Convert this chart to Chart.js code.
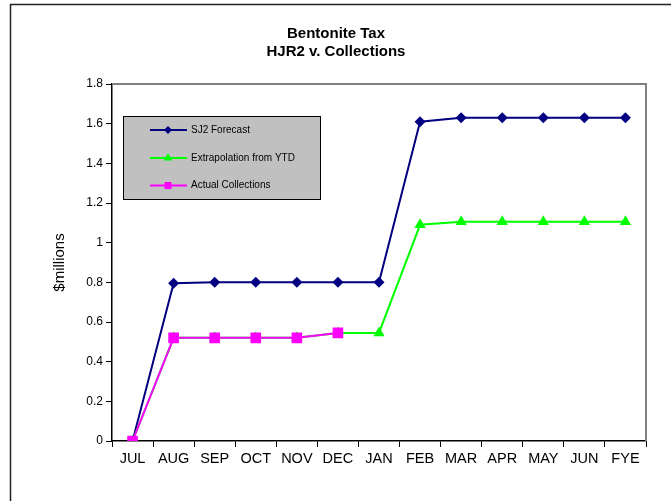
<!DOCTYPE html>
<html>
<head>
<meta charset="utf-8">
<script src="https://cdn.jsdelivr.net/npm/chart.js@4/dist/chart.umd.min.js"></script>
<style>
  html, body { margin: 0; padding: 0; background: #fff; }
  #wrap { width: 671px; height: 501px; position: relative; }
</style>
</head>
<body>
<div id="wrap"><canvas id="c" width="671" height="501"></canvas></div>
<script>
const categories = ['JUL','AUG','SEP','OCT','NOV','DEC','JAN','FEB','MAR','APR','MAY','JUN','FYE'];
const sj2Forecast = [0, 0.795, 0.80, 0.80, 0.80, 0.80, 0.80, 1.61, 1.63, 1.63, 1.63, 1.63, 1.63];
const extrapolation = [0, 0.52, 0.52, 0.52, 0.52, 0.545, 0.545, 1.09, 1.105, 1.105, 1.105, 1.105, 1.105];
const actualCollections = [0, 0.52, 0.52, 0.52, 0.52, 0.545, null, null, null, null, null, null, null];
const yTicks = { min: 0, max: 1.8, step: 0.2 };
const titleLines = ['Bentonite Tax', 'HJR2 v. Collections'];
const yAxisTitle = '$millions';

const FONT = '"Liberation Sans", Arial, sans-serif';

const decorPlugin = {
  id: 'decor',
  beforeDraw(chart) {
    const ctx = chart.ctx;
    ctx.save();
    ctx.fillStyle = '#fff';
    ctx.fillRect(0, 0, chart.width, chart.height);
    ctx.strokeStyle = '#222';
    ctx.lineWidth = 1.5;
    ctx.strokeRect(10.5, 4.5, 800, 800);
    // title
    ctx.fillStyle = '#000';
    ctx.font = 'bold 15px ' + FONT;
    ctx.textAlign = 'center';
    ctx.textBaseline = 'middle';
    ctx.fillText(titleLines[0], 336, 34);
    ctx.fillText(titleLines[1], 336, 52);
    ctx.restore();
  },
  beforeDatasetsDraw(chart) {
    const ctx = chart.ctx;
    const a = chart.chartArea;
    ctx.save();
    ctx.strokeStyle = '#808080';
    ctx.lineWidth = 2;
    ctx.beginPath();
    ctx.moveTo(a.left, a.top);
    ctx.lineTo(a.right, a.top);
    ctx.lineTo(a.right, a.bottom);
    ctx.stroke();
    ctx.restore();
  },
  afterDraw(chart) {
    const ctx = chart.ctx;
    ctx.save();
    // legend box
    ctx.fillStyle = '#c0c0c0';
    ctx.fillRect(123, 116, 197, 83);
    ctx.strokeStyle = '#000';
    ctx.lineWidth = 1;
    ctx.strokeRect(123.5, 116.5, 197, 83);
    const rows = [130, 158, 185.5];
    const ds = chart.data.datasets;
    ds.forEach((d, i) => {
      const y = rows[i];
      ctx.strokeStyle = d.borderColor;
      ctx.lineWidth = 2;
      ctx.beginPath();
      ctx.moveTo(150, y);
      ctx.lineTo(187, y);
      ctx.stroke();
      ctx.fillStyle = d.borderColor;
      const x = 168;
      ctx.beginPath();
      if (d.pointStyle === 'rectRot') {
        const r = 4;
        ctx.moveTo(x - r, y); ctx.lineTo(x, y - r); ctx.lineTo(x + r, y); ctx.lineTo(x, y + r);
      } else if (d.pointStyle === 'triangle') {
        const r = 5;
        ctx.moveTo(x, y - r); ctx.lineTo(x + r * 0.87, y + r * 0.5); ctx.lineTo(x - r * 0.87, y + r * 0.5);
      } else {
        const s = 3.5;
        ctx.rect(x - s, y - s, 2 * s, 2 * s);
      }
      ctx.closePath();
      ctx.fill();
      ctx.fillStyle = '#000';
      ctx.font = '10px ' + FONT;
      ctx.textAlign = 'left';
      ctx.textBaseline = 'middle';
      ctx.fillText(d.label, 191, y);
    });
    ctx.restore();
  }
};

new Chart(document.getElementById('c'), {
  type: 'line',
  data: {
    labels: categories,
    datasets: [
      {
        label: 'SJ2 Forecast',
        data: sj2Forecast,
        borderColor: '#000080',
        backgroundColor: '#000080',
        borderWidth: 2,
        pointStyle: 'rectRot',
        pointRadius: 5.5,
        pointBorderWidth: 0,
        tension: 0,
        order: 3
      },
      {
        label: 'Extrapolation from YTD',
        data: extrapolation,
        borderColor: '#00ff00',
        backgroundColor: '#00ff00',
        borderWidth: 2,
        pointStyle: 'triangle',
        pointRadius: 6.5,
        pointBorderWidth: 0,
        tension: 0,
        order: 2
      },
      {
        label: 'Actual Collections',
        data: actualCollections,
        borderColor: '#ff00ff',
        backgroundColor: '#ff00ff',
        borderWidth: 2,
        pointStyle: 'rect',
        pointRadius: 7.5,
        pointBorderWidth: 0,
        tension: 0,
        spanGaps: false,
        order: 1
      }
    ]
  },
  options: {
    responsive: false,
    animation: false,
    devicePixelRatio: 1,
    layout: { padding: { left: 10, right: 25, top: 84, bottom: 30 } },
    plugins: {
      legend: { display: false },
      title: { display: false },
      tooltip: { enabled: false }
    },
    scales: {
      x: {
        offset: true,
        grid: { offset: true, drawOnChartArea: false, drawTicks: true, tickLength: 6, color: '#000', lineWidth: 1 },
        border: { color: '#000', width: 1.5 },
        ticks: { color: '#000', font: { family: FONT, size: 14.5 }, padding: 3, maxRotation: 0, autoSkip: false },
        afterFit(scale) { scale.height = 30; }
      },
      y: {
        min: yTicks.min,
        max: yTicks.max,
        grid: { drawOnChartArea: false, drawTicks: true, tickLength: 6, color: '#000', lineWidth: 1 },
        border: { color: '#000', width: 1.5 },
        ticks: {
          stepSize: yTicks.step,
          color: '#000',
          font: { family: FONT, size: 12 },
          padding: 3,
          callback: v => String(Math.round(v * 10) / 10)
        },
        title: {
          display: true,
          text: yAxisTitle,
          color: '#000',
          font: { family: FONT, size: 15 },
          padding: { top: 41, bottom: 0 }
        },
        afterFit(scale) { scale.width = 102; }
      }
    }
  },
  plugins: [decorPlugin]
});
</script>
</body>
</html>
